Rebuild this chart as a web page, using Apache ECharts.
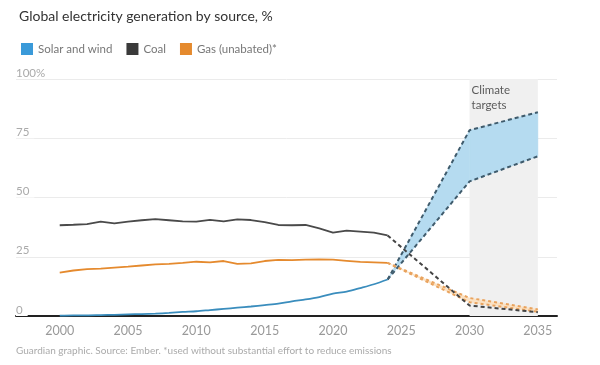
<!DOCTYPE html>
<html>
<head>
<meta charset="utf-8">
<script src="https://cdn.jsdelivr.net/npm/echarts@6/dist/echarts.min.js"></script>
<style>html,body{margin:0;padding:0;background:#fff}#c{width:600px;height:365px}</style>
</head>
<body>
<div id="c"></div>
<script>
const years = [2000,2001,2002,2003,2004,2005,2006,2007,2008,2009,2010,2011,2012,2013,2014,2015,2016,2017,2018,2019,2020,2021,2022,2023,2024];
const solarWind = [0.2,0.3,0.3,0.4,0.5,0.7,0.8,1.0,1.3,1.7,2.0,2.5,3.0,3.5,4.0,4.6,5.2,6.2,7.0,8.0,9.4,10.3,11.8,13.4,15.4];
const coal = [38.3,38.5,38.8,39.8,39.1,39.8,40.4,40.9,40.4,39.9,39.8,40.6,39.9,40.8,40.5,39.6,38.4,38.3,38.4,37.0,35.2,36.0,35.6,35.2,34.0];
const gas = [18.3,19.2,19.8,20.0,20.4,20.8,21.3,21.8,22.0,22.4,22.9,22.6,23.2,22.0,22.2,23.2,23.7,23.6,23.8,23.9,23.8,23.3,22.8,22.6,22.4];

const projYears = [2024, 2030, 2035];
const solarWindLow = [15.4, 56.8, 67.4];
const solarWindHigh = [15.4, 78.4, 86.0];
const coalProj = [34.0, 4.4, 1.6];
const gasLow = [22.4, 5.8, 1.8];
const gasHigh = [22.4, 7.6, 2.8];

const xTicks = [2000, 2005, 2010, 2015, 2020, 2025, 2030, 2035];
const targetRange = [2030, 2035];
const targetLabel = 'Climate\ntargets';

const pairs = (xs, ys) => xs.map((x, i) => [x, ys[i]]);
const bandRows = (xs, lo, hi) => xs.map((x, i) => [x, lo[i], hi[i]]);

const FONT = 'Lato, "Noto Sans", sans-serif';
const BLUE = '#3a8dbd', BLUE_LEG = '#3a9ad9', COAL = '#4a4a4a', GAS = '#e58a2e';
const BAND_EDGE = '#3f5b6c';

function makeBand(rows, fill) {
  return {
    type: 'custom', data: rows, silent: true, z: 2,
    encode: { x: 0, y: [1, 2] },
    renderItem: function (params, api) {
      const i = params.dataIndex;
      if (i >= rows.length - 1) return null;
      const a = rows[i], b = rows[i + 1];
      const pts = [
        api.coord([a[0], a[1]]), api.coord([b[0], b[1]]),
        api.coord([b[0], b[2]]), api.coord([a[0], a[2]])
      ];
      return { type: 'polygon', shape: { points: pts }, style: { fill: fill, stroke: fill, lineWidth: 0.5 } };
    }
  };
}

const chart = echarts.init(document.getElementById('c'));
chart.setOption({
  animation: false,
  textStyle: { fontFamily: FONT },
  title: {
    text: 'Global electricity generation by source, %',
    left: 14, top: 4,
    textStyle: { fontFamily: FONT, fontSize: 14, fontWeight: 'normal', color: '#333' }
  },
  legend: {
    left: 16, top: 38,
    itemWidth: 12, itemHeight: 12, itemGap: 14,
    textStyle: { fontFamily: FONT, fontSize: 11.5, color: '#777' },
    selectedMode: false,
    data: [
      { name: 'Solar and wind', icon: 'rect', itemStyle: { color: BLUE_LEG } },
      { name: 'Coal', icon: 'rect', itemStyle: { color: '#3a3a3a' } },
      { name: 'Gas (unabated)*', icon: 'rect', itemStyle: { color: GAS } }
    ]
  },
  graphic: [{
    type: 'text', left: 16, top: 346,
    style: { text: 'Guardian graphic. Source: Ember. *used without substantial effort to reduce emissions',
      font: '10px ' + FONT, fill: '#aaa' }
  }],
  grid: { left: 16, right: 43, top: 79, bottom: 49 },
  xAxis: {
    type: 'value', min: 1996.8, max: 2036.4,
    splitLine: { show: false },
    axisTick: { show: false },
    axisLine: { show: true, lineStyle: { color: '#222', width: 2 } },
    axisLabel: { customValues: xTicks, formatter: v => String(v), color: '#999', fontSize: 12.5, margin: 8, fontFamily: FONT }
  },
  yAxis: {
    type: 'value', min: 0, max: 100, interval: 25,
    axisLine: { show: false }, axisTick: { show: false },
    splitLine: { lineStyle: { color: '#ebebeb', width: 1 } },
    axisLabel: {
      inside: true, verticalAlign: 'bottom', margin: 0,
      formatter: v => v === 100 ? '100%' : String(v),
      color: '#aaa', fontSize: 11.5, fontFamily: FONT,
      backgroundColor: '#fff', padding: [0, 5, 0, 0]
    }
  },
  series: [
    {
      name: 'targets', type: 'line', data: pairs(targetRange, [0, 0]), silent: true,
      symbol: 'none', lineStyle: { opacity: 0 }, z: 0,
      markArea: {
        silent: true,
        itemStyle: { color: '#f0f0f0' },
        label: { show: false },
        data: [[{ xAxis: targetRange[0], yAxis: 100 }, { xAxis: targetRange[1], yAxis: 0 }]]
      }
    },
    {
      name: 'targetLabel', type: 'scatter', data: [[targetRange[0], 100]], silent: true,
      symbolSize: 0, z: 6,
      label: { show: true, position: 'right', align: 'left', verticalAlign: 'top', offset: [-3, 4],
        formatter: targetLabel, color: '#333', fontSize: 11.5, lineHeight: 15, fontFamily: FONT }
    },
    makeBand(bandRows(projYears, solarWindLow, solarWindHigh), '#b5dbf0'),
    makeBand(bandRows(projYears, gasLow, gasHigh), '#fbe2c4'),
    {
      name: 'swLow', type: 'line', data: pairs(projYears, solarWindLow),
      symbol: 'none', lineStyle: { color: BAND_EDGE, width: 2, type: [4, 3] }, z: 3
    },
    {
      name: 'swHigh', type: 'line', data: pairs(projYears, solarWindHigh),
      symbol: 'none', lineStyle: { color: BAND_EDGE, width: 2, type: [4, 3] }, z: 3
    },
    {
      name: 'gasLow', type: 'line', data: pairs(projYears, gasLow),
      symbol: 'none', lineStyle: { color: '#e9a35e', width: 2, type: [3, 3] }, z: 3
    },
    {
      name: 'gasHigh', type: 'line', data: pairs(projYears, gasHigh),
      symbol: 'none', lineStyle: { color: '#e9a35e', width: 2, type: [3, 3] }, z: 3
    },
    {
      name: 'coalProj', type: 'line', data: pairs(projYears, coalProj),
      symbol: 'none', lineStyle: { color: '#444', width: 2, type: [4, 3] }, z: 4
    },
    {
      name: 'Coal', type: 'line', data: pairs(years, coal), symbol: 'none',
      lineStyle: { color: COAL, width: 1.8 }, itemStyle: { color: COAL }, z: 5
    },
    {
      name: 'Gas (unabated)*', type: 'line', data: pairs(years, gas), symbol: 'none',
      lineStyle: { color: GAS, width: 1.8 }, itemStyle: { color: GAS }, z: 5
    },
    {
      name: 'Solar and wind', type: 'line', data: pairs(years, solarWind), symbol: 'none', smooth: 0.3,
      lineStyle: { color: BLUE, width: 1.8 }, itemStyle: { color: BLUE }, z: 5
    }
  ]
});
</script>
</body>
</html>
